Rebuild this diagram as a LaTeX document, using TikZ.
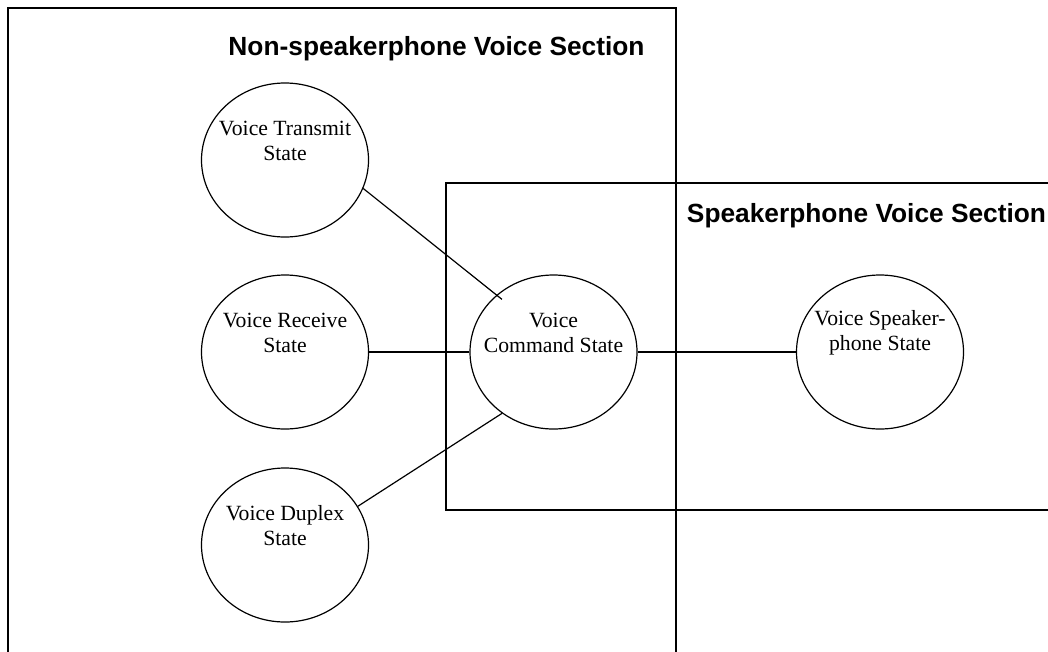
\documentclass[tikz,border=0pt]{standalone}
\usepackage{fontspec}
\setmainfont{Liberation Serif}
\setsansfont{Liberation Sans}
\usetikzlibrary{shapes.geometric}
\tikzset{
    state/.style={ellipse,draw,minimum width=167pt,minimum height=154pt,inner sep=0pt},
    statetext/.style={label={[align=center,inner sep=0pt,font=\fontsize{21.7}{25}\selectfont,yshift=19.5pt]center:#1}},
    section/.style={font=\sffamily\bfseries\fontsize{26.3}{30}\selectfont,anchor=base,inner sep=0pt},
}
\begin{document}
\begin{tikzpicture}[x=1pt,y=-1pt,line width=1.2pt]
                \useasboundingbox (0,0) rectangle (1048,651);
                \clip (0,0) rectangle (1048,651);
                \draw
                (8,8) rectangle (676,690) % <<< non-speakerphone
                (446,183) rectangle (1090,510); % <<< speakerphone
                \path
                (436.5,55.4) node[section] (nsp) {Non-speakerphone Voice Section}
                (866.5,222.4) node[section] (sp) {Speakerphone Voice Section};
                \path
                (285,160) node[state,statetext={Voice Transmit\\State}] (trans) {}
                ++(0,192) node[state,statetext={Voice Receive\\State}] (recv) {}
                ++(0,193) node[state,statetext={Voice Duplex\\State}] (dup) {}
                (553.5,352) node[state,statetext={Voice\\Command State}] (cmd) {}
                ++(326.5,0) node[state,statetext={Voice Speaker-\\phone State}] (spk) {};
                \draw[shorten >=-7pt] (trans.-20)--(cmd.135);
                \draw (recv.east)--(cmd.west);
                \draw (dup.28)--(cmd.-130);
                \draw (cmd.east)--(spk.west);
            \end{tikzpicture}
\end{document}
